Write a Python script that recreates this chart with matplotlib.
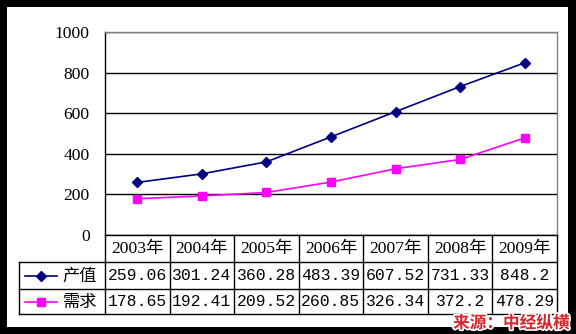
import matplotlib
matplotlib.use("Agg")
import matplotlib.pyplot as plt
from matplotlib.lines import Line2D
from matplotlib.patches import Rectangle
import matplotlib.patheffects as pe

years = ["2003年", "2004年", "2005年", "2006年", "2007年", "2008年", "2009年"]
output_values = [259.06, 301.24, 360.28, 483.39, 607.52, 731.33, 848.2]
demand_values = [178.65, 192.41, 209.52, 260.85, 326.34, 372.2, 478.29]
output_text = ["259.06", "301.24", "360.28", "483.39", "607.52", "731.33", "848.2"]
demand_text = ["178.65", "192.41", "209.52", "260.85", "326.34", "372.2", "478.29"]
series_names = ["产值", "需求"]
y_ticks = [0, 200, 400, 600, 800, 1000]

W, H = 576, 334
NAVY = "#000080"
MAGENTA = "#FF00FF"
SERIF = ["Liberation Serif", "Noto Sans CJK SC"]
MONO = ["Liberation Mono", "Noto Sans CJK SC"]
CJK = ["Noto Sans CJK SC", "DejaVu Sans"]

fig = plt.figure(figsize=(W / 100, H / 100), dpi=100, facecolor="black")

# pixel-space overlay for the background, the data table and the legend keys
ov = fig.add_axes([0, 0, 1, 1])
ov.set_xlim(0, W)
ov.set_ylim(H, 0)
ov.axis("off")
ov.add_patch(Rectangle((7, 7), 561, 320, facecolor="white", edgecolor="none", zorder=0))

# plot area
left, right, top, bottom = 105, 557, 32, 235
ax = fig.add_axes([left / W, 1 - bottom / H, (right - left) / W, (bottom - top) / H])
ax.set_facecolor("none")
x = list(range(len(years)))
ax.plot(x, output_values, color=NAVY, lw=1.2, marker="D", ms=5.5,
        markerfacecolor=NAVY, markeredgecolor=NAVY, zorder=3)
ax.plot(x, demand_values, color=MAGENTA, lw=1.2, marker="s", ms=6,
        markerfacecolor=MAGENTA, markeredgecolor=MAGENTA, zorder=3)
ax.set_xlim(-0.5, len(years) - 0.5)
ax.set_ylim(0, 1000)
ax.set_yticks(y_ticks)
ax.set_yticklabels([str(t) for t in y_ticks], family=SERIF, fontsize=12.6)
ax.tick_params(axis="y", length=0, pad=11)
ax.set_xticks([])
ax.yaxis.grid(True, color="black", lw=1.0)
ax.set_axisbelow(True)
for side in ("top", "right"):
    ax.spines[side].set_color("#808080")
    ax.spines[side].set_linewidth(1.0)
for side in ("left", "bottom"):
    ax.spines[side].set_color("black")
    ax.spines[side].set_linewidth(1.0)

# data table beneath the plot
col_edges = [105 + (557 - 105) * i / len(years) for i in range(len(years) + 1)]
row_edges = [235, 262, 289, 314]
lk = dict(color="black", lw=1.0, zorder=2)
for yy in row_edges[1:]:
    ov.add_line(Line2D([19, 557], [yy, yy], **lk))
ov.add_line(Line2D([19, 19], [262, 314], **lk))
for xx in col_edges:
    ov.add_line(Line2D([xx, xx], [235, 314], **lk))

centers = [(col_edges[i] + col_edges[i + 1]) / 2 for i in range(len(years))]
for i, c in enumerate(centers):
    ov.text(c, 249, years[i], family=SERIF, fontsize=12.6, ha="center", va="center")
    ov.text(c, 276, output_text[i], family=MONO, fontsize=11.8, ha="center", va="center")
    ov.text(c, 302, demand_text[i], family=MONO, fontsize=11.8, ha="center", va="center")

# legend keys in the first column
ov.add_line(Line2D([25, 41, 57], [276, 276, 276], color=NAVY, lw=1.2, marker="D", ms=5.5,
                   markevery=[1], zorder=3))
ov.add_line(Line2D([25, 41, 57], [302, 302, 302], color=MAGENTA, lw=1.2, marker="s", ms=5.5,
                   markevery=[1], zorder=3))
ov.text(80, 276, series_names[0], family=CJK, fontsize=12.4, ha="center", va="center")
ov.text(80, 302, series_names[1], family=CJK, fontsize=12.4, ha="center", va="center")

# source note
ov.text(453, 323, "来源：中经纵横", family=CJK, fontsize=12, fontweight="bold",
        color="#D9262C", ha="left", va="center", zorder=5,
        path_effects=[pe.withStroke(linewidth=2.5, foreground="white")])

fig.savefig("out.png", dpi=100, facecolor="black")
